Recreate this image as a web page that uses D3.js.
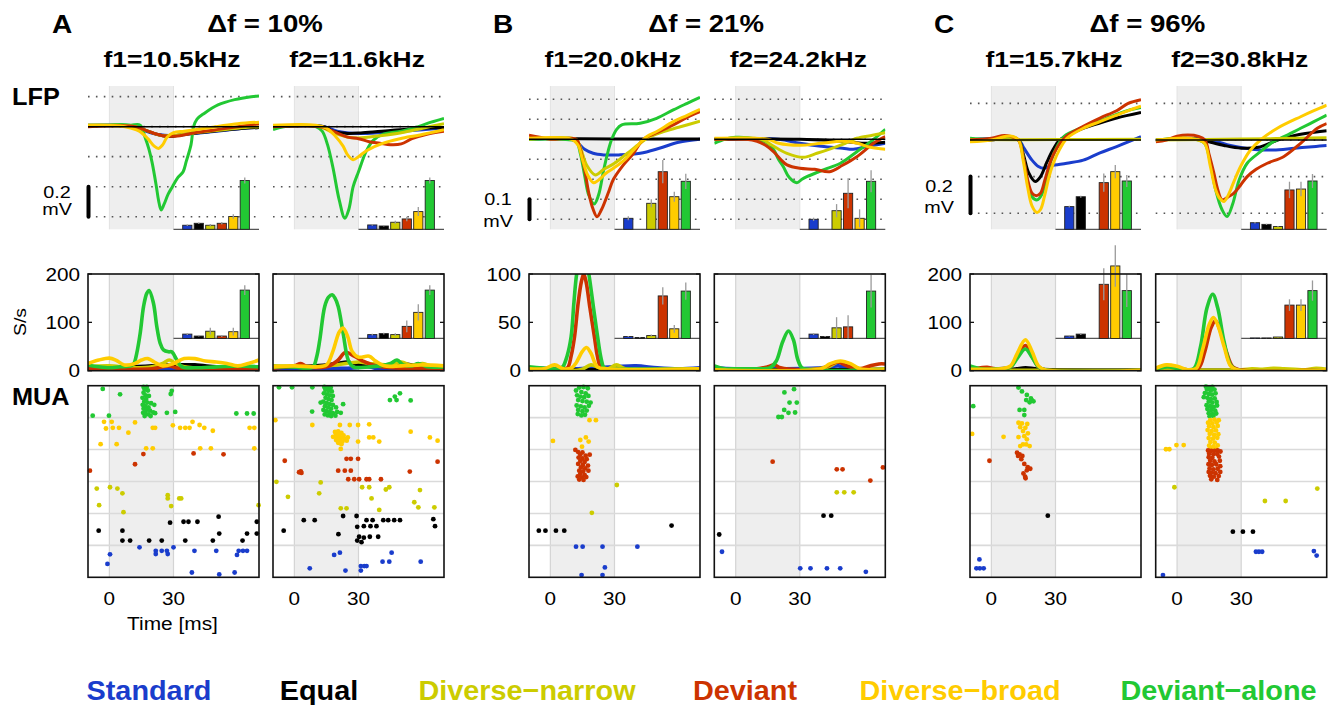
<!DOCTYPE html>
<html>
<head>
<meta charset="utf-8">
<script src="https://cdn.jsdelivr.net/npm/d3@7"></script>
<style>
  body { margin: 0; background: #fff; }
  svg { display: block; font-family: "Liberation Sans", Arial, sans-serif; }
</style>
</head>
<body>
<svg id="fig"></svg>
<script>
// ---- categories / labels ----
const conds = ["std", "eq", "dn", "dev", "db", "da"];
const condNames = ["Standard", "Equal", "Diverse\u2212narrow", "Deviant", "Diverse\u2212broad", "Deviant\u2212alone"];
const condColors = ["#1a3dcc", "#000000", "#cccc00", "#cc3300", "#ffcc00", "#22c833"];
const rasterRows = ["da", "db", "dev", "dn", "eq", "std"];   // top to bottom
const lfpOrder = ["std", "eq", "da", "dn", "dev", "db"];
const muaOrder = ["std", "eq", "dn", "dev", "da", "db"];
const groupLetters = ["A", "B", "C"];
const deltaLabels = ["\u0394f = 10%", "\u0394f = 21%", "\u0394f = 96%"];
const toneLabels = ["f1=10.5kHz", "f2=11.6kHz", "f1=20.0kHz", "f2=24.2kHz", "f1=15.7kHz", "f2=30.8kHz"];
const timeTicks = [0, 30];
const muaMax = [200, 100, 200];
const muaTicks = [[0, 100, 200], [0, 50, 100], [0, 100, 200]];
const lfpGrid = [[0.2, 0, -0.2, -0.4, -0.6], [0.2, 0.1, 0, -0.1, -0.2, -0.3, -0.4], [0.2, 0, -0.2, -0.4]];
const scaleBarMV = [0.2, 0.1, 0.2];

// ---- LFP traces (ms, mV) ----
const lfpA1 = {
  std: [[-10,0.01],[12,0],[17,-0.03],[22,-0.05],[30,-0.06],[40,-0.045],[50,-0.03],[60,-0.015],[70,-0.005]],
  eq:  [[-10,0.005],[10,0.005],[14,-0.01],[18,-0.03],[22,-0.05],[28,-0.065],[35,-0.05],[45,-0.035],[55,-0.02],[70,-0.005]],
  dn:  [[-10,0.01],[12,0],[18,-0.03],[25,-0.06],[32,-0.055],[40,-0.04],[50,-0.025],[60,-0.01],[70,0]],
  dev: [[-10,0],[12,0],[18,-0.03],[25,-0.06],[33,-0.06],[40,-0.04],[50,-0.02],[60,0],[70,0.02]],
  db:  [[-10,0.01],[5,0.005],[10,-0.01],[14,-0.03],[18,-0.08],[21,-0.13],[23,-0.145],[25,-0.12],[27,-0.07],[30,-0.04],[35,-0.03],[40,-0.02],[50,0],[60,0.02],[70,0.03]],
  da:  [[-10,0.01],[0,0.01],[5,0.015],[10,0.01],[14.4,0.01],[16.6,-0.067],[18.5,-0.15],[20,-0.24],[22,-0.4],[23,-0.49],[24.2,-0.555],[25.5,-0.52],[27.5,-0.45],[29.5,-0.4],[32,-0.34],[34.5,-0.3],[36,-0.23],[38.2,-0.12],[39.4,0],[41,0.05],[44.5,0.09],[50.8,0.145],[58.6,0.18],[66.4,0.2],[70,0.205]]
};
const lfpA2 = {
  std: [[-10,0],[14,0],[20,-0.03],[30,-0.045],[40,-0.04],[50,-0.03],[60,-0.02],[70,-0.01]],
  eq:  [[-10,0],[14,0],[18,-0.03],[25,-0.045],[32,-0.04],[45,-0.025],[60,-0.01],[70,-0.005]],
  dn:  [[-10,0],[12,0],[18,-0.04],[25,-0.07],[30,-0.075],[40,-0.06],[50,-0.04],[60,-0.01],[70,0.02]],
  dev: [[-10,0],[12,0],[18,-0.03],[25,-0.07],[30,-0.08],[35,-0.1],[40,-0.11],[45,-0.12],[50,-0.115],[55,-0.08],[62,-0.05],[70,-0.03]],
  db:  [[-10,0.01],[10,0.01],[15,-0.01],[19,-0.06],[22.8,-0.13],[25,-0.19],[27.5,-0.22],[30,-0.2],[33.75,-0.16],[41.6,-0.11],[49.4,-0.08],[58.75,-0.055],[70,-0.02]],
  da:  [[-10,-0.02],[-5,0],[5,0.01],[10,0],[13,-0.03],[15.5,-0.12],[18,-0.27],[21,-0.49],[23.6,-0.61],[25.5,-0.55],[27.5,-0.4],[30,-0.3],[33.75,-0.16],[37,-0.09],[41.6,-0.05],[50,-0.03],[58,0],[64,0.03],[70,0.055]]
};
const lfpB1 = {
  std: [[-10,0],[10,0],[13,-0.02],[16,-0.05],[20,-0.07],[25,-0.078],[32,-0.078],[42,-0.07],[51,-0.045],[60,-0.015],[70,0]],
  eq:  [[-10,0.003],[30,0.002],[70,0.002]],
  dn:  [[-10,0],[12,0],[14,-0.04],[17,-0.13],[21,-0.178],[25,-0.15],[30,-0.12],[36,-0.07],[42,-0.02],[46,0.01],[52,0.035],[60,0.06],[70,0.09]],
  dev: [[-10,0.02],[-5,0.01],[0,0],[12,0],[14,-0.05],[16,-0.15],[18,-0.27],[20,-0.35],[21.8,-0.387],[24,-0.35],[27,-0.27],[29.5,-0.2],[34,-0.13],[38.9,-0.07],[43.5,0],[50,0.035],[57.5,0.072],[64,0.11],[70,0.138]],
  db:  [[-10,0.005],[10,0],[13,-0.03],[15,-0.1],[17.5,-0.18],[20.2,-0.217],[23,-0.2],[26,-0.17],[29.5,-0.145],[35,-0.1],[39,-0.053],[45,0.013],[50,0.04],[57.5,0.088],[64,0.12],[70,0.15]],
  da:  [[-10,0],[5,0],[12,-0.01],[14,-0.07],[16,-0.18],[18,-0.28],[20.5,-0.323],[22.5,-0.28],[25,-0.15],[27,-0.06],[28.7,0],[31,0.05],[33.4,0.072],[42,0.08],[49.7,0.105],[57.5,0.147],[64,0.18],[70,0.21]]
};
const lfpB2 = {
  std: [[-10,0],[20,0],[30,-0.02],[40,-0.035],[50,-0.045],[55,-0.05],[62,-0.035],[70,-0.02]],
  eq:  [[-10,0],[30,0],[50,-0.01],[60,-0.02],[70,-0.015]],
  dn:  [[-10,0],[12,0],[17,-0.03],[24,-0.07],[31.7,-0.09],[38,-0.07],[45,-0.045],[50,-0.025],[56.7,0.005],[64,0.02],[70,0.033]],
  dev: [[-10,0],[5,0],[10,-0.01],[14,-0.03],[17.7,-0.062],[21,-0.1],[24,-0.128],[30,-0.145],[37,-0.15],[44,-0.162],[50,-0.13],[56.7,-0.087],[64.5,-0.02],[70,0.013]],
  db:  [[-10,0.005],[15,0],[20,-0.02],[30,-0.03],[40,-0.02],[50,-0.01],[57,-0.02],[63,-0.04],[70,-0.05]],
  da:  [[-10,-0.02],[-5,0],[0,0.01],[10,0],[15,-0.02],[17.7,-0.05],[20,-0.1],[22.3,-0.137],[25,-0.19],[28.6,-0.217],[31,-0.2],[33.3,-0.187],[41,-0.153],[49,-0.12],[56.7,-0.062],[64.5,0],[70,0.05]]
};
const lfpC1 = {
  std: [[-10,0],[12.7,0],[15,-0.04],[19,-0.11],[22,-0.145],[24.4,-0.155],[28,-0.14],[35.3,-0.127],[43,-0.11],[50.8,-0.07],[58.6,-0.036],[70,0.018]],
  eq:  [[-10,0],[0,0],[6,0.01],[12.7,0],[15,-0.08],[17.5,-0.18],[20.5,-0.227],[23,-0.2],[26,-0.12],[29,-0.05],[32,0],[40,0.05],[50,0.09],[58.6,0.12],[70,0.15]],
  dn:  [[-10,0.002],[30,0.002],[70,0.004]],
  dev: [[-10,0],[0,0.01],[6,0.025],[9,0.02],[12.7,0],[15,-0.1],[17,-0.22],[19,-0.29],[21,-0.305],[23,-0.29],[25,-0.22],[27,-0.14],[29,-0.08],[32,-0.02],[35,0.02],[43,0.075],[50.8,0.12],[58.6,0.16],[64,0.2],[70,0.22]],
  db:  [[-10,-0.01],[0,0],[7,0.02],[10,0.02],[12.7,0],[15,-0.12],[17,-0.26],[19,-0.36],[21.3,-0.396],[23,-0.38],[25,-0.3],[27,-0.2],[29,-0.127],[32,-0.05],[35.3,0.009],[43,0.064],[50.8,0.1],[58.6,0.136],[65,0.165],[70,0.185]],
  da:  [[-10,0.01],[0,0.005],[6,0.015],[12.7,0],[15,-0.1],[17,-0.23],[19,-0.31],[21.5,-0.327],[23.5,-0.3],[25.5,-0.22],[28,-0.11],[31,-0.03],[34,0.02],[43,0.07],[50.8,0.105],[58.6,0.14],[65,0.165],[70,0.178]]
};
const lfpC2 = {
  std: [[-10,0],[15,0],[25,-0.03],[35,-0.05],[45,-0.055],[55,-0.045],[65,-0.035],[70,-0.03]],
  eq:  [[-10,0],[10,0.005],[15,-0.01],[22,-0.03],[30,-0.045],[38,-0.04],[45,-0.01],[50,0.01],[60,0.035],[70,0.05]],
  dn:  [[-10,0],[30,0.005],[70,0.012]],
  dev: [[-10,-0.01],[-5,0],[0,0.02],[5,0.027],[10,0.02],[13,0],[15,-0.08],[17.2,-0.18],[19,-0.27],[21.1,-0.327],[24,-0.31],[26.6,-0.29],[29.5,-0.25],[32.8,-0.2],[37,-0.16],[42.2,-0.127],[50,-0.09],[57.8,-0.018],[65.6,0.064],[70,0.09]],
  db:  [[-10,0],[0,0.01],[5,0.01],[10,0],[13,-0.02],[15.5,-0.14],[18,-0.27],[20,-0.32],[21.9,-0.336],[24,-0.3],[26.5,-0.23],[29.7,-0.145],[34,-0.06],[39,0],[46.9,0.064],[57.8,0.127],[64,0.16],[70,0.19]],
  da:  [[-10,0],[0,0.01],[5,0.01],[10,0],[13,-0.02],[15.5,-0.12],[18,-0.27],[21,-0.38],[23.4,-0.418],[26,-0.35],[29,-0.22],[32.8,-0.127],[39,-0.064],[45,-0.01],[50,0.018],[57.8,0.064],[64,0.1],[70,0.136]]
};

// ---- LFP inset bars (mV), order = conds ----
const lfpBarsA1 = [0.027, 0.04, 0.027, 0.04, 0.085, 0.325];
const lfpErrA1  = [0.005, 0.005, 0.008, 0.008, 0.015, 0.02];
const lfpBarsA2 = [0.029, 0.022, 0.047, 0.069, 0.118, 0.325];
const lfpErrA2  = [0.005, 0.004, 0.01, 0.015, 0.03, 0.02];
const lfpBarsB1 = [0.055, 0, 0.13, 0.288, 0.163, 0.24];
const lfpErrB1  = [0.01, 0, 0.02, 0.058, 0.025, 0.038];
const lfpBarsB2 = [0.05, 0, 0.093, 0.18, 0.055, 0.24];
const lfpErrB2  = [0.008, 0, 0.033, 0.075, 0.045, 0.055];
const lfpBarsC1 = [0.124, 0.178, 0, 0.255, 0.315, 0.264];
const lfpErrC1  = [0.005, 0.005, 0, 0.05, 0.036, 0.033];
const lfpBarsC2 = [0.036, 0.027, 0.015, 0.215, 0.22, 0.264];
const lfpErrC2  = [0.004, 0.003, 0.003, 0.045, 0.04, 0.038];

// ---- MUA rate traces (ms, spikes/s) ----
const muaA1 = {
  std: [[-10,3],[20,3],[30,5],[40,3],[70,3]],
  eq:  [[-10,5],[10,8],[20,10],[30,12],[40,12],[50,8],[60,6],[70,8]],
  dn:  [[-10,8],[0,10],[10,6],[20,8],[25,15],[28,22],[31,15],[35,8],[50,5],[70,5]],
  dev: [[-10,5],[20,4],[28,10],[32,5],[70,4]],
  db:  [[-10,15],[-5,22],[0,26],[3,22],[7,12],[12,15],[15,22],[18,25],[21,18],[25,10],[30,15],[35,25],[40,25],[45,20],[50,18],[55,15],[60,10],[65,15],[70,22]],
  da:  [[-10,12],[-5,8],[0,6],[5,8],[10,10],[11.5,15],[12.8,36],[14.4,77],[16,133],[17.5,160],[18.6,166],[20.6,140],[22.2,91],[23.75,57],[25.3,43],[27.7,39],[29.2,39],[31.6,22],[34,8],[40,6],[50,8],[60,10],[70,8]]
};
const muaA2 = {
  std: [[-10,3],[20,5],[25,5],[35,8],[40,3],[70,3]],
  eq:  [[-10,8],[10,10],[20,15],[25,18],[30,12],[40,10],[50,15],[60,8],[70,8]],
  dn:  [[-10,10],[10,8],[20,12],[30,18],[35,15],[45,12],[50,18],[55,10],[60,15],[65,8],[70,10]],
  dev: [[-10,5],[0,10],[3,15],[6,8],[15,8],[20,20],[24,38],[28,30],[32,20],[38,10],[50,5],[70,5]],
  db:  [[-10,8],[0,10],[10,8],[15,12],[18,40],[21,80],[22.8,88],[25,70],[27,40],[30,28],[35,30],[38,20],[42,10],[50,10],[60,12],[70,10]],
  da:  [[-10,8],[0,8],[5,5],[8.75,8],[10.5,30],[11.9,64],[14.2,133],[16,152],[17.7,157],[19,150],[20.5,133],[22.8,78],[25.2,22],[27.5,8],[35,8],[40,10],[45,15],[48,22],[51,12],[55,10],[58,15],[62,8],[70,8]]
};
const muaB1 = {
  std: [[-10,3],[10,2],[20,3],[30,4],[40,5],[50,3],[60,2],[70,3]],
  eq:  [[-10,1],[30,1],[70,1]],
  dn:  [[-10,1],[14,1],[19,6],[23,3],[27,2],[31,6],[35,2],[70,1]],
  dev: [[-10,2],[5,2],[8,3],[9.7,15],[11.3,35],[13,70],[14.5,92],[15.6,100],[16.7,92],[18.5,65],[20.6,35],[22,15],[23.5,4],[26,2],[70,2]],
  db:  [[-10,2],[-3,2],[2,6],[6,2],[10,3],[12,8],[15,20],[16.9,24],[19,18],[22,4],[27,2],[70,2]],
  da:  [[-10,4],[0,2],[4,2],[5.8,4],[7.8,15],[9.7,35],[11,70],[12.3,100],[14.5,125],[16,125],[18,100],[20.5,60],[22.1,35],[23.8,12],[25.2,3],[30,2],[70,2]]
};
const muaB2 = {
  std: [[-10,3],[0,2],[20,2],[40,3],[48,5],[55,2],[70,2]],
  eq:  [[-10,1],[70,1]],
  dn:  [[-10,1],[42,3],[48,9],[52,8],[56,3],[70,2]],
  dev: [[-10,1],[10,2],[15,4],[18,6],[21,3],[30,1],[40,2],[45,7],[48,9],[52,5],[58,2],[63,5],[67,7],[70,7]],
  db:  [[-10,1],[40,2],[44,7],[49,10],[54,7],[58,2],[70,1]],
  da:  [[-10,5],[-5,2],[0,2],[10,2],[16,3],[19,10],[22,30],[24.7,41],[27,32],[29,12],[31,3],[35,1],[70,1]]
};
const muaC1 = {
  std: [[-10,2],[70,2]],
  eq:  [[-10,2],[10,3],[16,6],[22,3],[70,1]],
  dn:  [[-10,1],[70,1]],
  dev: [[-10,3],[-5,6],[-2,7],[2,4],[9,8],[12,30],[15.9,52],[19,30],[22,8],[25,2],[70,1]],
  db:  [[-10,3],[0,3],[5,4],[9,10],[12,35],[15.9,64],[19,40],[22,10],[25,2],[70,1]],
  da:  [[-10,10],[-5,4],[0,3],[9,8],[12,25],[15.9,45],[19,28],[22,8],[25,2],[70,1]]
};
const muaC2 = {
  std: [[-10,1],[70,1]],
  eq:  [[-10,1],[70,1]],
  dn:  [[-10,2],[30,2],[35,4],[40,3],[45,5],[50,4],[55,3],[60,2],[65,5],[70,3]],
  dev: [[-10,4],[-5,10],[0,7],[5,2],[10,5],[13,40],[16,90],[18,103],[20,85],[23,40],[26,8],[29,2],[70,2]],
  db:  [[-10,5],[-5,12],[0,9],[5,2],[9,5],[12,45],[15,95],[17,110],[19,95],[22,50],[25,10],[28,2],[70,2]],
  da:  [[-10,3],[-5,8],[0,5],[5,2],[8,5],[11,50],[14,130],[16.7,158],[19,130],[22,60],[25,12],[28,2],[70,2]]
};

// ---- MUA inset bars (spikes/s), order = conds ----
const muaBarsA1 = [9, 5, 15, 5, 14, 100];
const muaErrA1  = [2, 1, 7, 2, 8, 10];
const muaBarsA2 = [8, 10, 8, 25, 54, 100];
const muaErrA2  = [2, 2, 3, 12, 17, 10];
const muaBarsB1 = [2, 1, 3, 44, 10, 49];
const muaErrB1  = [0.5, 0.5, 1, 9, 4, 9];
const muaBarsB2 = [4.5, 2, 11, 12, 0, 49];
const muaErrB2  = [1, 0.5, 11, 12, 0, 17];
const muaBarsC1 = [5, 9, 0, 112, 150, 99];
const muaErrC1  = [1, 2, 0, 33, 43, 34];
const muaBarsC2 = [1, 1, 3, 69, 69, 99];
const muaErrC2  = [0.5, 0.5, 1, 12, 12, 21];

// ---- spike rasters: [time ms, trial within condition block (0-10)] ----
const rasA1 = {
  da:  [[-3.1,1],[5,2.7],[-7.8,9.4],[-0.2,9.4],[29.2,1.6],[28.7,2.6],[26.9,8.5],[30.8,8.2],[59.4,8.7],[64.4,8.7],[67.5,8.7],
        [16,0.4],[17.5,0.4],[16.5,1.2],[18,1.5],[16,2.2],[17,3],[18.5,3.2],[15.5,3.8],[17.2,4.2],[16.3,5],[17.8,5.3],[19.5,5.5],[15.6,6],[16.8,6.4],[18.3,6.8],[21,6],[16,7.2],[17.3,7.6],[19,7.8],[15.8,8.5],[17,8.8],[18.4,9],[20.5,8.4],[21.4,8.6],[16.5,9.5],[19.3,9.5]],
  db:  [[-2.5,1.3],[1.1,1.3],[-1.6,3.4],[1.6,3.2],[4.5,3.2],[8.9,4.7],[12,1.5],[-4.1,8.3],[3.4,8.3],[17.2,9.6],[20.3,9.6],[20.3,3.2],[21.4,3.2],[29.7,2.4],[33.1,3.2],[35.5,3.2],[37.5,3.2],[38.9,1.3],[42.2,2.3],[44.4,3.2],[48.4,4.1],[42.5,9.6],[47.5,9.6],[65.6,3.2],[67.8,3.2],[67.8,9.6]],
  dev: [[15.9,1.4],[12,4.6],[-9.1,6.6],[39.4,1.2],[53.4,1.5]],
  dn:  [[-5.9,2.2],[0.3,1.8],[3.75,2.2],[6.1,3.7],[-4.8,7.4],[6.6,9.6],[27.3,4.3],[27.3,5.3],[32.7,5.3],[33.6,5.3],[28.9,7.7],[69.8,7.4]],
  eq:  [[-5,5.4],[6.1,5.4],[6.1,8.5],[9.7,8.5],[18.6,8.5],[24.5,8.5],[28.4,2.9],[34.7,2.6],[37,2.6],[41.2,2.6],[51.1,1],[51.4,6.3],[35.5,8.5],[48.4,8.5],[64.4,6.3],[62.3,8.5],[69,2.6],[69,6.3]],
  std: [[0.3,2.8],[-0.9,5.8],[14.1,0.6],[21.7,1.7],[21.7,2.7],[24.5,1.7],[26.9,1.7],[27.3,2.7],[30,0.6],[39.8,1.7],[50,1.7],[60.5,1.7],[64.4,1.7],[62.5,1.7],[59.7,3],[38.6,8.5],[51.4,9.1],[58.6,8.5]]
};
const rasA2 = {
  da:  [[-7.2,0.5],[-1.1,0.5],[8.4,0.5],[8.3,8.1],[12.3,5.3],[22.8,5.8],[21.7,8.5],[44.7,4.5],[47.8,4.5],[49.4,2.4],[47,3.4],[54.4,4.6],
        [14,0.4],[15.5,0.5],[17,0.6],[14.5,1.3],[16,1.6],[17.5,1.8],[13.8,2.4],[15.2,2.7],[16.6,3],[18,3.2],[14.6,3.8],[16,4.2],[17.4,4.5],[13.5,5],[15,5.4],[16.4,5.8],[18,6],[14.3,6.4],[15.8,6.8],[17.2,7.2],[19.5,6.8],[13.6,7.6],[15,8],[16.5,8.3],[18,8.6],[20,8.2],[14.2,9],[15.7,9.3],[17.2,9.5],[19.2,9.4]],
  db:  [[-8.9,0.8],[8.4,2.3],[21.3,2.3],[25.9,2.3],[29.8,2.3],[29.8,7.5],[35,2.1],[35,6.2],[36.9,6.2],[39.7,7.5],[54.4,4.4],[63.4,6.2],[67,7.2],[21.7,9.8],[18.1,6],
        [19,4.5],[20.5,4.3],[22,4.8],[19.5,5.3],[21,5.5],[23,5.6],[20,6.2],[21.8,6.4],[23.5,6.6],[25,6.2],[19.5,7],[21,7.3],[22.5,7.5],[24.5,7.2],[20.5,7.9],[22,8.3]],
  dev: [[-4.5,3.5],[2.2,7.1],[3.3,7.3],[3,6.8],[24.4,2.9],[26.4,2.9],[29.8,2.9],[20.5,6.6],[23.6,6.6],[26.4,6.6],[25.2,9.3],[28,9.3],[30.3,9.3],[33.75,9.3],[35,9.3],[40.5,9.3],[54,6.9],[67,3.8]],
  dn:  [[-8.4,0.1],[12.3,0.3],[-3,4.8],[11.6,3.7],[21.7,8.4],[24.4,8.4],[31.7,1.8],[35,1.8],[36.1,5.3],[39.7,8.9],[42.8,2.5],[44.4,1.8],[58.75,2.7],[56.1,6.5],[58,8.1],[65.5,8.1]],
  eq:  [[-5,5.4],[4.4,2.1],[9.5,2.1],[22.8,0.8],[29.1,0.8],[20.6,6.5],[29.4,4.2],[33.75,2.1],[36.6,2.1],[32.5,4],[35.6,4],[38.4,4],[30.3,7.3],[32.5,7.6],[35.3,7.3],[39.2,7.3],[29.4,8.5],[31.4,9],[41.6,2.1],[43.9,2.1],[46.7,2.1],[49.4,2.1],[65,1.8],[65.8,4]],
  std: [[7.2,7.2],[18.6,3],[21.3,2.3],[23.9,7.9],[31.1,6.5],[32.7,6.5],[33.75,6.5],[31.1,7.9],[41.25,5.1],[44.4,5.1],[45.5,2.3],[59.1,5.1]]
};
const rasB1 = {
  da:  [[12,1.5],[13.5,0.6],[15.5,0.4],[17.5,0.8],[14.5,2],[16.5,2.4],[12.5,3],[14,3.4],[15.8,3.6],[17.8,3.2],[13,4.5],[15,4.8],[17,5],[18.8,5.3],[12.3,6.2],[14.2,6.5],[16,6.8],[18,6.3],[13,7.6],[15,8],[17,7.8],[12.8,8.9],[14.5,9.3],[16.2,9.1]],
  db:  [[18.3,0.8],[21.3,0.8],[1.2,7.3],[14,7],[16.6,6.2],[17.9,7.5],[14.8,9.1]],
  dev: [[11.7,0.1],[13,0.8],[15,0.9],[14,1.6],[16.5,1.9],[18.4,1.6],[13.2,2.5],[15,2.8],[17,3],[14,3.6],[16,3.9],[13,4.5],[15.2,4.8],[17.6,5],[14.3,5.6],[16.3,5.9],[13.5,6.6],[15.3,6.8],[17.8,6.6],[14,7.6],[16,7.9],[12.8,8.4],[14.8,8.7],[16.8,8.6],[13.5,9.4],[15.5,9.5]],
  dn:  [[31.1,1.1],[19.4,9.8]],
  eq:  [[-5.4,5.4],[-2.3,5.4],[2.6,5.4],[6.5,5.4],[56.7,3.8]],
  std: [[12,0.4],[15.1,0.4],[24.4,0.4],[40.7,0.4],[25.5,6.9],[14.6,9.3],[24.4,9.3]]
};
const rasB2 = {
  da:  [[22.8,2.1],[27.3,1.1],[25.2,5.3],[28.6,5.3],[22.7,7.6],[24.7,8.5],[27.8,8.4],[20,9.8],[21.6,9.8]],
  db:  [],
  dev: [[17.3,3.8],[47.3,6.2],[50,6.2],[63,9.7],[68.9,5.6]],
  dn:  [[47.3,3.4],[50.8,3.4],[55.2,3.4]],
  eq:  [[-7.7,6.6],[41.1,0.7],[44.7,0.7]],
  std: [[-6.4,2],[30.2,7.2],[35,7.2],[42.7,7.2],[48.9,7.2],[60.9,8.3]]
};
const rasC1 = {
  da:  [[-8.5,6.4],[12.7,0.6],[14.3,1.8],[16.3,4.5],[17.9,5.2],[19,4.6],[19.7,4.9],[13.2,7.6],[15.4,7.6],[15.4,9.2],[16.6,2.9],[18.5,4]],
  db:  [[-9,5.1],[5.7,6],[12.7,1.6],[14.3,1.8],[15.9,3.2],[14.8,4.2],[12.7,6.1],[15.4,5.8],[16.6,6.8],[14.8,8.4],[16.3,8.4],[17.9,8.9],[13.5,8.9],[17.1,4.9],[13.5,3],[16.8,2]],
  dev: [[-0.9,3.5],[12,1],[13.2,1.5],[14,3],[15.4,4.5],[16.6,6.5],[18.2,6],[15,7.5],[16,9],[12.5,2],[14.5,2],[17,5.5],[15.8,8.5]],
  dn:  [],
  eq:  [[26.4,0.7]],
  std: [[-5.6,4.4],[-7,7.2],[-5.4,7.2],[-3.6,7.2]]
};
const rasC2 = {
  da:  [[13.5,0.3],[15,0.5],[16.5,0.4],[14,1.2],[15.8,1.5],[17.5,1.2],[13,2.3],[14.8,2.6],[16.4,2.8],[18,2.4],[12.5,3.6],[14.2,3.8],[15.8,4.2],[17.6,4],[14.8,5],[16.5,5.3],[18.5,5.1],[13.8,6.1],[15.5,6.4],[17.2,6.6],[18.7,6.2],[14.2,7.3],[16,7.6],[17.8,7.8],[14.8,8.6],[16.5,8.9],[18.3,8.7],[15.2,9.6],[17,9.5]],
  db:  [[-5.2,9.9],[-3.6,9.9],[-0.3,8.6],[3.1,8.6],[15.5,0.8],[17.5,0.6],[19.5,0.8],[14.5,1.6],[16.5,1.8],[18.5,1.5],[15,2.7],[17,3],[19,2.6],[14.3,3.9],[16.2,4.2],[18.2,4],[15.3,5.1],[17.3,5.4],[19.3,5.2],[14.8,6.4],[16.8,6.6],[18.8,6.3],[15.6,7.6],[17.6,7.8],[15,8.8],[17,9],[19,8.7],[16,9.7],[18.2,9.8]],
  dev: [[14.5,0.3],[16,0.4],[17.5,0.4],[19,0.3],[20.3,0.6],[15,1.3],[17,1.5],[18.8,1.4],[14.8,2.4],[16.5,2.6],[19.6,2.2],[15.5,3.5],[17.5,3.7],[20,3.5],[14.7,4.6],[16.3,4.8],[18.3,4.6],[20.2,5.2],[15.2,5.9],[17,6.2],[19,6],[14.8,7],[16.2,7.2],[18,7.4],[20.2,7],[15.4,8.2],[17.2,8.5],[19.5,8.3],[16,9.3],[18.8,9.5]],
  dn:  [[-1.25,1.8],[41.1,6.1],[50.8,6.1],[65.6,2.2]],
  eq:  [[26.1,5.7],[30.8,5.7],[35.5,5.7]],
  std: [[36.9,2],[38.3,2],[39.8,2],[64,1.8],[65.3,3.2],[-6.6,9.3]]
};

// ---- collect per panel ----
const lfpSets = [lfpA1, lfpA2, lfpB1, lfpB2, lfpC1, lfpC2];
const lfpBars = [lfpBarsA1, lfpBarsA2, lfpBarsB1, lfpBarsB2, lfpBarsC1, lfpBarsC2];
const lfpErrs = [lfpErrA1, lfpErrA2, lfpErrB1, lfpErrB2, lfpErrC1, lfpErrC2];
const muaSets = [muaA1, muaA2, muaB1, muaB2, muaC1, muaC2];
const muaBars = [muaBarsA1, muaBarsA2, muaBarsB1, muaBarsB2, muaBarsC1, muaBarsC2];
const muaErrs = [muaErrA1, muaErrA2, muaErrB1, muaErrB2, muaErrC1, muaErrC2];
const rasSets = [rasA1, rasA2, rasB1, rasB2, rasC1, rasC2];

// ---- layout ----
const width = 1331, height = 705;
const panelLeft = [88, 273, 529, 714.3, 970, 1155.7];
const panelW = 171;
const lfpTop = 86, lfpBot = 229.3;
const muaTop = 274, muaBot = 370.7;
const rasTop = 385.7, rasBot = 577.3;
const lfpDomain = [[-0.684, 0.271], [-0.45, 0.2665], [-0.488, 0.295]];
const colorOf = d3.scaleOrdinal().domain(conds).range(condColors);

const svg = d3.select("#fig").attr("width", width).attr("height", height);
const defs = svg.append("defs");

function label(parent, x, y, str, size, opts) {
  const o = Object.assign({ weight: "normal", anchor: "middle", sx: 1.15, fill: "#000", rot: 0 }, opts || {});
  return parent.append("text")
    .attr("transform", `translate(${x},${y})` + (o.rot ? ` rotate(${o.rot})` : "") + ` scale(${o.sx},1)`)
    .attr("text-anchor", o.anchor)
    .attr("font-size", size)
    .attr("font-weight", o.weight)
    .attr("fill", o.fill)
    .text(str);
}

function insetBars(g, band, vals, errs, baseY, hOf) {
  conds.forEach((c, k) => {
    if (vals[k] <= 0) return;
    const h = hOf(vals[k]);
    g.append("rect")
      .attr("x", band(c)).attr("y", baseY - h)
      .attr("width", band.bandwidth()).attr("height", h)
      .attr("fill", colorOf(c)).attr("stroke", "#222").attr("stroke-width", 0.9);
    if (errs[k] > 0) {
      g.append("line")
        .attr("x1", band(c) + band.bandwidth() / 2).attr("x2", band(c) + band.bandwidth() / 2)
        .attr("y1", baseY - hOf(vals[k] + errs[k])).attr("y2", baseY - hOf(Math.max(0, vals[k] - errs[k])))
        .attr("stroke", "#9a9a9a").attr("stroke-width", 1.3);
    }
  });
}

panelLeft.forEach((x0, i) => {
  const gi = Math.floor(i / 2);
  const x1 = x0 + panelW;
  const x = d3.scaleLinear().domain([-10, 70]).range([x0, x1]);
  const band = d3.scaleBand().domain(conds).range([x(34.3), x(65.5)]).paddingInner(0.2);
  const layer = svg.append("g");

  // ---------- LFP ----------
  const yL = d3.scaleLinear().domain(lfpDomain[gi]).range([lfpBot, lfpTop]);
  layer.append("rect").attr("x", x(0)).attr("y", lfpTop)
    .attr("width", x(30) - x(0)).attr("height", lfpBot - lfpTop).attr("fill", "#eeeeee");
  [0, 30].forEach(t => layer.append("line").attr("x1", x(t)).attr("x2", x(t))
    .attr("y1", lfpTop).attr("y2", lfpBot).attr("stroke", "#e2e2e2").attr("stroke-width", 1));
  lfpGrid[gi].forEach(v => {
    layer.append("line").attr("x1", x0).attr("x2", x1).attr("y1", yL(v)).attr("y2", yL(v))
      .attr("stroke", "#555").attr("stroke-width", 1.6).attr("stroke-dasharray", "1.6,6.3");
  });
  defs.append("clipPath").attr("id", "clipL" + i).append("rect")
    .attr("x", x0).attr("y", 0).attr("width", panelW).attr("height", 260);
  const lineL = d3.line().x(d => x(d[0])).y(d => yL(d[1])).curve(d3.curveCatmullRom.alpha(0.5));
  const lg = layer.append("g").attr("clip-path", `url(#clipL${i})`);
  lfpOrder.forEach(c => {
    lg.append("path").attr("d", lineL(lfpSets[i][c])).attr("fill", "none")
      .attr("stroke", colorOf(c)).attr("stroke-width", 3).attr("stroke-linejoin", "round");
  });
  layer.append("line").attr("x1", x0).attr("x2", x1).attr("y1", yL(0)).attr("y2", yL(0))
    .attr("stroke", "#000").attr("stroke-width", 1.5);
  layer.append("line").attr("x1", x(30)).attr("x2", x1).attr("y1", lfpBot).attr("y2", lfpBot)
    .attr("stroke", "#555").attr("stroke-width", 1.3);
  insetBars(layer, band, lfpBars[i], lfpErrs[i], lfpBot, v => yL(0) - yL(v));

  // ---------- MUA rate ----------
  const yM = d3.scaleLinear().domain([0, muaMax[gi]]).range([muaBot, muaTop]);
  layer.append("rect").attr("x", x(0)).attr("y", muaTop)
    .attr("width", x(30) - x(0)).attr("height", muaBot - muaTop).attr("fill", "#eeeeee");
  [0, 30].forEach(t => layer.append("line").attr("x1", x(t)).attr("x2", x(t))
    .attr("y1", muaTop).attr("y2", muaBot).attr("stroke", "#d4d4d4").attr("stroke-width", 1.2));
  defs.append("clipPath").attr("id", "clipM" + i).append("rect")
    .attr("x", x0).attr("y", muaTop).attr("width", panelW).attr("height", muaBot - muaTop);
  const lineM = d3.line().x(d => x(d[0])).y(d => yM(d[1])).curve(d3.curveCatmullRom.alpha(0.5));
  const mg = layer.append("g").attr("clip-path", `url(#clipM${i})`);
  muaOrder.forEach(c => {
    mg.append("path").attr("d", lineM(muaSets[i][c])).attr("fill", "none")
      .attr("stroke", colorOf(c)).attr("stroke-width", 3.6).attr("stroke-linejoin", "round");
  });
  const baseM = yM(muaMax[gi] / 3);
  layer.append("line").attr("x1", x(30)).attr("x2", x1).attr("y1", baseM).attr("y2", baseM)
    .attr("stroke", "#555").attr("stroke-width", 1.3);
  insetBars(layer, band, muaBars[i], muaErrs[i], baseM, v => yM(0) - yM(v));
  layer.append("rect").attr("x", x0).attr("y", muaTop).attr("width", panelW).attr("height", muaBot - muaTop)
    .attr("fill", "none").attr("stroke", "#111").attr("stroke-width", 1.6);
  muaTicks[gi].forEach(v => {
    layer.append("line").attr("x1", x0).attr("x2", x0 + 4).attr("y1", yM(v)).attr("y2", yM(v)).attr("stroke", "#111").attr("stroke-width", 1.3);
    layer.append("line").attr("x1", x1 - 4).attr("x2", x1).attr("y1", yM(v)).attr("y2", yM(v)).attr("stroke", "#111").attr("stroke-width", 1.3);
    if (i % 2 === 0) label(layer, x0 - 8, yM(v) + 6.5, String(v), 18.5, { anchor: "end", sx: 1.12 });
  });

  // ---------- raster ----------
  const yR = d3.scaleLinear().domain([0, 60]).range([rasTop, rasBot]);
  layer.append("rect").attr("x", x(0)).attr("y", rasTop)
    .attr("width", x(30) - x(0)).attr("height", rasBot - rasTop).attr("fill", "#eeeeee");
  [0, 30].forEach(t => layer.append("line").attr("x1", x(t)).attr("x2", x(t))
    .attr("y1", rasTop).attr("y2", rasBot).attr("stroke", "#d4d4d4").attr("stroke-width", 1.2));
  [10, 20, 30, 40, 50].forEach(v => layer.append("line").attr("x1", x0).attr("x2", x1)
    .attr("y1", yR(v)).attr("y2", yR(v)).attr("stroke", "#dadada").attr("stroke-width", 1.6));
  rasterRows.forEach((c, r) => {
    layer.append("g").selectAll("circle").data(rasSets[i][c]).join("circle")
      .attr("cx", d => x(d[0])).attr("cy", d => yR(r * 10 + d[1]))
      .attr("r", 2.4).attr("fill", colorOf(c));
  });
  layer.append("rect").attr("x", x0).attr("y", rasTop).attr("width", panelW).attr("height", rasBot - rasTop)
    .attr("fill", "none").attr("stroke", "#111").attr("stroke-width", 1.6);
  timeTicks.forEach(t => label(layer, x(t), 605, String(t), 18.5, { sx: 1.12 }));

  // tone label
  label(svg, (x0 + x1) / 2 - 1.5, 66.7, toneLabels[i], 22, { weight: "bold", sx: 1.2 });

  // group-level items on first panel of each pair
  if (i % 2 === 0) {
    const pairRight = panelLeft[i + 1] + panelW;
    label(svg, x0 - 26, 33, groupLetters[gi], 25.5, { weight: "bold", sx: 1.1 });
    label(svg, (x0 + pairRight) / 2 - 1, 31.7, deltaLabels[gi], 23, { weight: "bold", sx: 1.2 });
    // scale bar
    const lowest = d3.min(lfpGrid[gi]);
    layer.append("line").attr("x1", x0 + 0.5).attr("x2", x0 + 0.5)
      .attr("y1", yL(lowest)).attr("y2", yL(lowest + scaleBarMV[gi]))
      .attr("stroke", "#000").attr("stroke-width", 4).attr("stroke-linecap", "round");
    const sbY = [[198, 215], [205, 226.5], [191.5, 213.3]][gi];
    label(svg, x0 - 31, sbY[0], String(scaleBarMV[gi]), 16.5, { sx: 1.2 });
    label(svg, x0 - 31, sbY[1], "mV", 16.5, { sx: 1.2 });
  }
});

// row labels
label(svg, 12, 105, "LFP", 23, { weight: "bold", anchor: "start", sx: 1.1 });
label(svg, 12, 405, "MUA", 23, { weight: "bold", anchor: "start", sx: 1.1 });
label(svg, 26, 322, "S/s", 16.5, { rot: -90, sx: 1.18 });
label(svg, 172.5, 630, "Time [ms]", 18, { sx: 1.16 });

// legend
const legendX = [149, 319, 527, 745, 960, 1218.5];
condNames.forEach((n, k) => label(svg, legendX[k], 700, n, 28, { weight: "bold", fill: condColors[k], sx: 1.03 }));
</script>
</body>
</html>
